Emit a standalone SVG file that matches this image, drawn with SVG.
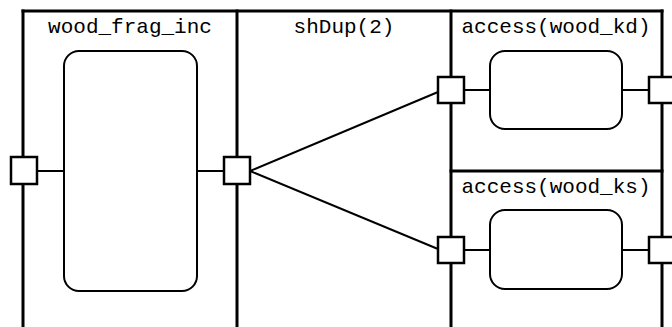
<svg xmlns="http://www.w3.org/2000/svg" width="672" height="327" viewBox="0 0 672 327">
<style>
.frame{stroke:#000;stroke-width:3;fill:none;stroke-linecap:square}
.inner{stroke:#000;stroke-width:2;fill:#fff}
.port{stroke:#000;stroke-width:2.5;fill:#fff}
.wire{stroke:#000;stroke-width:2;fill:none}
.lbl{font-family:"Liberation Mono","Courier New",monospace;font-size:21px;fill:#000;text-anchor:middle}
</style>
<rect width="672" height="327" fill="#fff"/>
<g id="frame">
<line class="frame" x1="23" y1="11" x2="662" y2="11"/>
<line class="frame" x1="23" y1="11" x2="23" y2="330"/>
<line class="frame" x1="237" y1="11" x2="237" y2="330"/>
<line class="frame" x1="451" y1="11" x2="451" y2="330"/>
<line class="frame" x1="662" y1="11" x2="662" y2="330"/>
<line class="frame" x1="451" y1="171" x2="662" y2="171"/>
</g>
<g id="connectors">
<line class="wire" x1="37" y1="171" x2="64" y2="171"/>
<line class="wire" x1="197" y1="171" x2="224" y2="171"/>
<line class="wire" x1="250" y1="171" x2="438" y2="92"/>
<line class="wire" x1="250" y1="171" x2="438" y2="249"/>
<line class="wire" x1="464" y1="90" x2="490" y2="90"/>
<line class="wire" x1="622" y1="90" x2="649" y2="90"/>
<line class="wire" x1="464" y1="250" x2="490" y2="250"/>
<line class="wire" x1="622" y1="250" x2="649" y2="250"/>
</g>
<g id="wood_frag_inc">
<text class="lbl" x="130" y="33">wood_frag_inc</text>
<rect class="inner" x="64" y="51" width="133" height="240" rx="15"/>
<rect class="port" x="11" y="157" width="26" height="27"/>
<rect class="port" x="224" y="157" width="26" height="27"/>
</g>
<g id="shDup">
<text class="lbl" x="344" y="33">shDup(2)</text>
</g>
<g id="access_wood_kd">
<text class="lbl" x="556" y="33">access(wood_kd)</text>
<rect class="inner" x="490" y="51" width="132" height="78" rx="15"/>
<rect class="port" x="438" y="77" width="26" height="26"/>
<rect class="port" x="649" y="77" width="26" height="26"/>
</g>
<g id="access_wood_ks">
<text class="lbl" x="556" y="193">access(wood_ks)</text>
<rect class="inner" x="490" y="210" width="132" height="79" rx="15"/>
<rect class="port" x="438" y="237" width="26" height="26"/>
<rect class="port" x="649" y="237" width="26" height="26"/>
</g>
</svg>
